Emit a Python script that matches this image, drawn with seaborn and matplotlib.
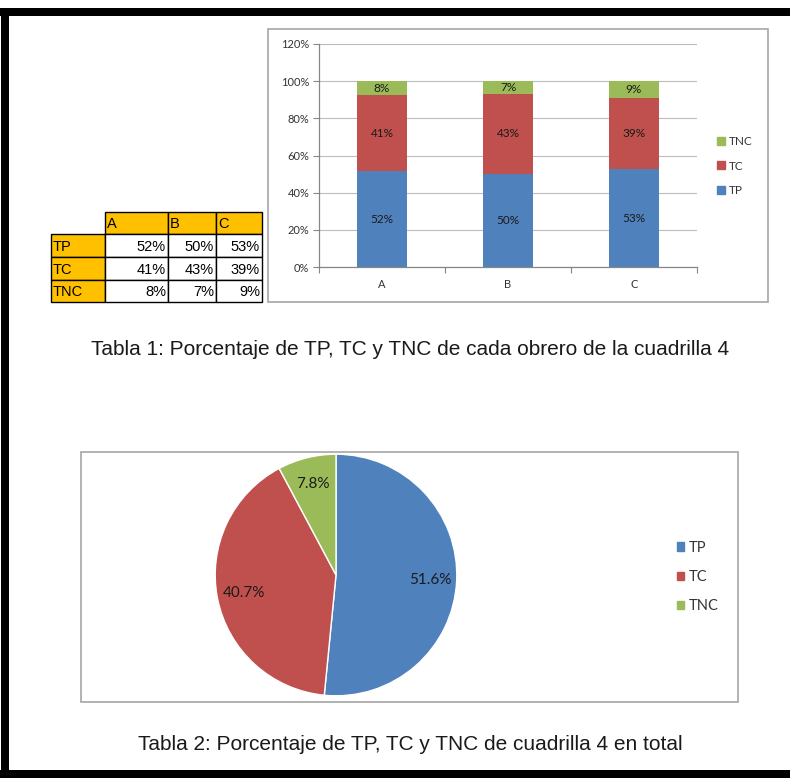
import matplotlib
matplotlib.use('Agg')
import matplotlib.pyplot as plt
import seaborn as sns
import pandas as pd
from matplotlib.patches import Rectangle, Patch
from matplotlib.ticker import FuncFormatter

# ---------------- data ----------------
workers = ['A', 'B', 'C']
series = ['TP', 'TC', 'TNC']
tp = [51.6, 50.3, 52.6]
tc = [40.8, 42.7, 38.6]
tnc = [7.6, 7.0, 8.8]
yticks = [0, 20, 40, 60, 80, 100, 120]
pie_labels = ['TP', 'TC', 'TNC']
pie_values = [51.6, 40.7, 7.8]
caption1 = "Tabla 1: Porcentaje de TP, TC y TNC de cada obrero de la cuadrilla 4"
caption2 = "Tabla 2: Porcentaje de TP, TC y TNC de cuadrilla 4 en total"

colors = {'TP': '#4F81BD', 'TC': '#C0504D', 'TNC': '#9BBB59'}
ORANGE = '#FFC000'
W, H = 790, 778

sns.set_theme(style='white')
plt.rcParams['font.family'] = ['Lato', 'DejaVu Sans']

fig = plt.figure(figsize=(W / 100, H / 100), dpi=100)
fig.patch.set_facecolor('white')

def fr(x0, y0, x1, y1):
    return [x0 / W, 1 - y1 / H, (x1 - x0) / W, (y1 - y0) / H]

# background / decoration axes in pixel coordinates
bg = fig.add_axes([0, 0, 1, 1])
bg.set_xlim(0, W)
bg.set_ylim(H, 0)
bg.axis('off')

# black page frame
bg.add_patch(Rectangle((0, 8), W, 8, color='black', lw=0))
bg.add_patch(Rectangle((1, 8), 8, H - 8, color='black', lw=0))
bg.add_patch(Rectangle((0, 770), W, 8, color='black', lw=0))

# chart frames
bg.add_patch(Rectangle((268, 29), 500, 273, fill=False, ec='#a6a6a6', lw=1.2))
bg.add_patch(Rectangle((81, 452), 657, 250, fill=False, ec='#a6a6a6', lw=1.2))

# ---------------- table ----------------
vals = {'TP': tp, 'TC': tc, 'TNC': tnc}
col_x = [51, 105, 168, 216, 262]
row_y = [212, 234, 257, 280, 302]
tfont = dict(family=['Liberation Sans Narrow', 'Liberation Sans', 'DejaVu Sans'],
             fontsize=10.5, color='black', va='center')
for j, w in enumerate(workers):
    x0, x1 = col_x[j + 1], col_x[j + 2]
    bg.add_patch(Rectangle((x0, row_y[0]), x1 - x0, row_y[1] - row_y[0],
                           fc=ORANGE, ec='black', lw=1))
    bg.text(x0 + 2, (row_y[0] + row_y[1]) / 2 + 1, w, ha='left', **tfont)
for i, s in enumerate(series):
    y0, y1 = row_y[i + 1], row_y[i + 2]
    bg.add_patch(Rectangle((col_x[0], y0), col_x[1] - col_x[0], y1 - y0,
                           fc=ORANGE, ec='black', lw=1))
    bg.text(col_x[0] + 2, (y0 + y1) / 2 + 1, s, ha='left', **tfont)
    for j, v in enumerate(vals[s]):
        x0, x1 = col_x[j + 1], col_x[j + 2]
        bg.add_patch(Rectangle((x0, y0), x1 - x0, y1 - y0, fc='white', ec='black', lw=1))
        bg.text(x1 - 2, (y0 + y1) / 2 + 1, f"{v:.0f}%", ha='right', **tfont)

# ---------------- stacked bar chart ----------------
ax = fig.add_axes(fr(319, 44, 697, 267))
df = pd.DataFrame({'worker': workers, 'TP': tp, 'TC': tc, 'TNC': tnc})
df['cum_TP'] = df['TP']
df['cum_TC'] = df['TP'] + df['TC']
df['cum_TNC'] = df['cum_TC'] + df['TNC']
for s in ['TNC', 'TC', 'TP']:
    sns.barplot(data=df, x='worker', y='cum_' + s, color=colors[s], width=0.4,
                saturation=1, linewidth=0, errorbar=None, ax=ax)
for s in series:
    bottoms = df['cum_' + s] - df[s]
    for i, (b, v) in enumerate(zip(bottoms, df[s])):
        ax.text(i, b + v / 2, f"{v:.0f}%", ha='center', va='center',
                fontsize=8.5, color='#1a1a1a')

ax.set_xlim(-0.5, 2.5)
ax.set_ylim(0, 120)
ax.set_yticks(yticks)
ax.yaxis.set_major_formatter(FuncFormatter(lambda v, p: f"{v:.0f}%"))
ax.set_xlabel('')
ax.set_ylabel('')
ax.set_xticks([-0.5, 0.5, 1.5, 2.5], minor=True)
ax.yaxis.grid(True, color='#bcbcbc', lw=0.8)
ax.set_axisbelow(True)
for sp in ['top', 'right']:
    ax.spines[sp].set_visible(False)
for sp in ['left', 'bottom']:
    ax.spines[sp].set_color('#868686')
    ax.spines[sp].set_linewidth(0.9)
ax.tick_params(axis='y', left=True, length=4, width=0.8, color='#868686',
               labelsize=8, labelcolor='#333333', pad=3)
ax.tick_params(axis='x', which='major', bottom=False, length=0,
               labelsize=8, labelcolor='#333333', pad=9)
ax.tick_params(axis='x', which='minor', bottom=True, length=4, width=0.8,
               color='#868686')
ax.set_facecolor('none')

leg_order = ['TNC', 'TC', 'TP']
ax.legend([Patch(color=colors[s]) for s in leg_order], leg_order,
          loc='center left', bbox_to_anchor=(717 / W, 1 - 166 / H),
          bbox_transform=fig.transFigure, frameon=False, fontsize=8.5,
          handlelength=0.65, handleheight=0.65, handletextpad=0.35,
          labelspacing=1.15, borderpad=0, borderaxespad=0,
          labelcolor='#333333')

# ---------------- pie chart ----------------
pax = fig.add_axes(fr(214, 453, 458, 697))
_it = iter(pie_values)
wedges, texts, autotexts = pax.pie(
    pie_values, colors=[colors[s] for s in pie_labels], startangle=90,
    counterclock=False, autopct=lambda p: f"{next(_it):.1f}%",
    pctdistance=0.78, wedgeprops=dict(edgecolor='white', linewidth=1))
for t in autotexts:
    t.set_fontsize(11)
    t.set_color('#1a1a1a')
pax.set_xlim(-1.01, 1.01)
pax.set_ylim(-1.01, 1.01)
pax.set_aspect('equal')

pax.legend([Patch(color=colors[s]) for s in pie_labels], pie_labels,
           loc='center left', bbox_to_anchor=(677 / W, 1 - 577 / H),
           bbox_transform=fig.transFigure, frameon=False, fontsize=10.5,
           handlelength=0.5, handleheight=0.5, handletextpad=0.3,
           labelspacing=1.05, borderpad=0, borderaxespad=0,
           labelcolor='#333333')

# ---------------- captions ----------------
cfont = dict(family=['Liberation Sans', 'DejaVu Sans'], fontsize=15,
             color='#1a1a1a', ha='center', va='center')
bg.text(410, 349, caption1, **cfont)
bg.text(410, 744, caption2, **cfont)

fig.savefig('out.png', dpi=100)
